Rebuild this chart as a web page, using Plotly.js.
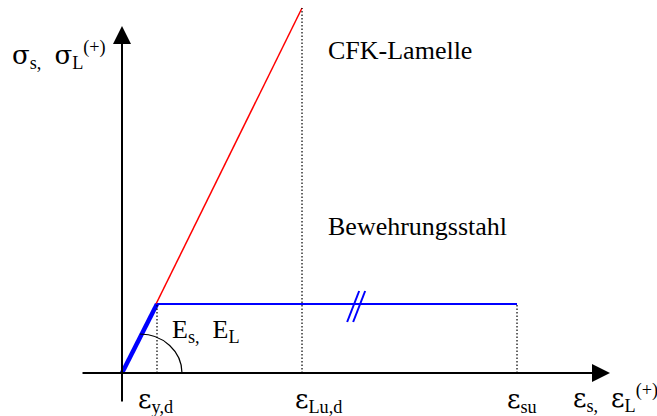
<!DOCTYPE html>
<html>
<head>
<meta charset="utf-8">
<script src="https://cdn.plot.ly/plotly-3.0.1.min.js"></script>
<style>html,body{margin:0;padding:0;background:#fff}#chart{width:657px;height:416px}</style>
</head>
<body>
<div id="chart"></div>
<script>
// ---- data (relative units) ----
const strainTickNames = ["y,d", "Lu,d", "su"];          // subscripts of ε
const strainTicks = [1.0, 5.143, 11.286];                 // ε_y,d, ε_Lu,d, ε_su
const steelStrain = [0, 1.0, 11.286];                     // Bewehrungsstahl
const steelStress = [0, 1.0, 1.0];
const cfkStrain = [0, 5.143];                             // CFK-Lamelle
const cfkStress = [0, 5.29];
const seriesNames = ["CFK-Lamelle", "Bewehrungsstahl"];

// ---- layout helpers ----
const W = 657, H = 416;
const FONT = "Liberation Serif, Times New Roman, serif";
const px = v => v / W;
const py = v => 1 - v / H;
const G = c => "<span style=\"font-family:'DejaVu Serif'\">" + c + "</span>";

const traces = [
  {x: cfkStrain, y: cfkStress, mode: "lines", line: {color: "#ff0000", width: 1.5}, hoverinfo: "skip"},
  {x: [steelStrain[0], steelStrain[1]], y: [steelStress[0], steelStress[1]], mode: "lines",
   line: {color: "#0000ff", width: 4.5}, hoverinfo: "skip"},
  {x: [steelStrain[1], steelStrain[2]], y: [steelStress[1], steelStress[2]], mode: "lines",
   line: {color: "#0000ff", width: 2}, hoverinfo: "skip"},
  // dotted reference lines
  {x: [strainTicks[0], strainTicks[0]], y: [0, steelStress[1]], mode: "lines",
   line: {color: "#000", width: 1.2, dash: "1.5px,2px"}, hoverinfo: "skip"},
  {x: [strainTicks[1], strainTicks[1]], y: [0, cfkStress[1]], mode: "lines",
   line: {color: "#000", width: 1.2, dash: "1.5px,2px"}, hoverinfo: "skip"},
  {x: [strainTicks[2], strainTicks[2]], y: [0, steelStress[2]], mode: "lines",
   line: {color: "#000", width: 1.2, dash: "1.5px,2px"}, hoverinfo: "skip"}
];

// arc marking the modulus
const arcCx = 0.514, arcRx = 1.2, arcRy = 0.565, k = 0.5523;
const arcPath = `M ${arcCx},${arcRy} C ${arcCx + k*arcRx},${arcRy} ${arcCx + arcRx},${k*arcRy} ${arcCx + arcRx},0`;

// break mark "//" on the plastic branch
const bx = 6.69, dxp = 1/35, dyp = 1/69;
const shapes = [
  {type: "path", path: arcPath, xref: "x", yref: "y", line: {color: "#000", width: 1.2}},
  {type: "line", xref: "x", yref: "y", x0: bx - 9*dxp, y0: 1 - 18*dyp, x1: bx + 3*dxp, y1: 1 + 13*dyp,
   line: {color: "#0000ff", width: 2}},
  {type: "line", xref: "x", yref: "y", x0: bx - 3*dxp, y0: 1 - 18*dyp, x1: bx + 9*dxp, y1: 1 + 13*dyp,
   line: {color: "#0000ff", width: 2}}
];

const txt = (text, x, y, opts) => Object.assign({
  text, x, y, xref: "paper", yref: "paper", showarrow: false, xanchor: "left", yanchor: "middle",
  font: {family: FONT, size: 26, color: "#000"}
}, opts || {});

const annotations = [
  // axes with arrowheads
  {x: 13.943, y: 0, ax: -1.171, ay: 0, xref: "x", yref: "y", axref: "x", ayref: "y", text: "",
   showarrow: true, arrowhead: 2, arrowsize: 1.8, arrowwidth: 2, arrowcolor: "#000", standoff: 0},
  {x: 0, y: 5.029, ax: 0, ay: -0.435, xref: "x", yref: "y", axref: "x", ayref: "y", text: "",
   showarrow: true, arrowhead: 2, arrowsize: 1.8, arrowwidth: 2, arrowcolor: "#000", standoff: 0},
  // axis titles
  txt(G("σ") + "<sub>s,</sub>&nbsp;&nbsp;" + G("σ") + "<sub>L</sub><sup>(+)</sup>", px(10), py(55)),
  txt(G("ε") + "<sub>s,</sub>&nbsp;&nbsp;" + G("ε") + "<sub>L</sub><sup>(+)</sup>", px(571), py(398)),
  // series labels
  txt(seriesNames[0], px(326), py(50)),
  txt(seriesNames[1], px(326), py(227)),
  txt("E<sub>s,</sub>&nbsp;&nbsp;E<sub>L</sub>", px(170), py(331)),
  // strain tick labels
  ...strainTicks.map((v, i) => Object.assign(txt(G("ε") + "<sub>" + strainTickNames[i] + "</sub>", v, py(400)),
    {xref: "x", xshift: [-21, -9, -12][i]}))
];

const layout = {
  width: W, height: H,
  margin: {l: 0, r: 0, t: 0, b: 0},
  paper_bgcolor: "#fff", plot_bgcolor: "#fff",
  showlegend: false,
  xaxis: {range: [-122/35, 535/35], visible: false, fixedrange: true},
  yaxis: {range: [-43/69, 373/69], visible: false, fixedrange: true},
  shapes, annotations
};

Plotly.newPlot("chart", traces, layout, {staticPlot: true, displayModeBar: false});
</script>
</body>
</html>
